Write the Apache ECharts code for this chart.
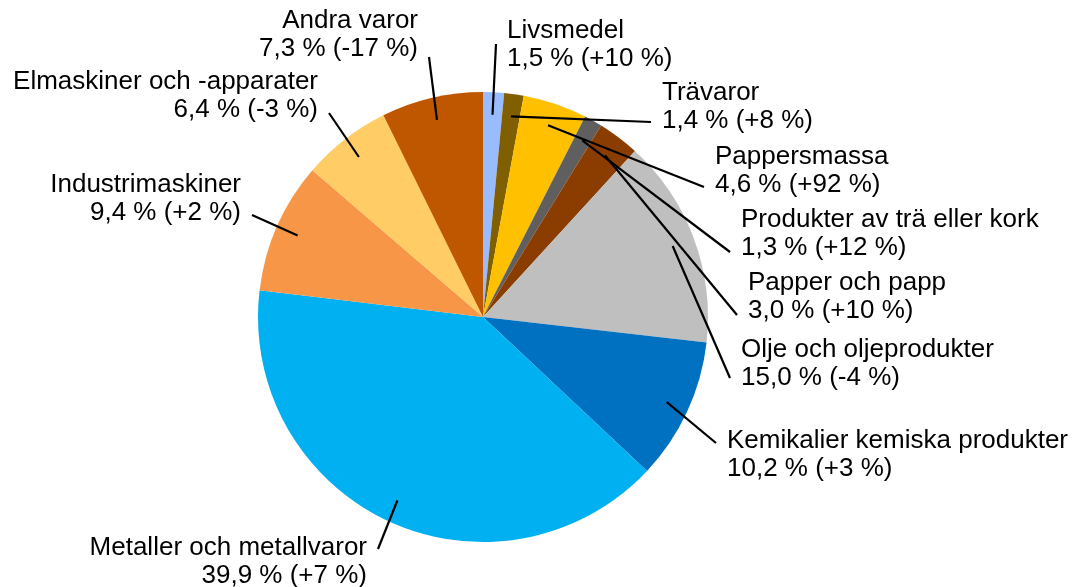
<!DOCTYPE html>
<html>
<head>
<meta charset="utf-8">
<script src="https://cdn.jsdelivr.net/npm/echarts@6/dist/echarts.min.js"></script>
<style>
  html, body { margin: 0; padding: 0; background: #ffffff; }
  #chart { width: 1076px; height: 587px; }
</style>
</head>
<body>
<div id="chart"></div>
<script>
// Varugrupper, andel i procent och förändring mot föregående år
const categories = [
  'Livsmedel',
  'Trävaror',
  'Pappersmassa',
  'Produkter av trä eller kork',
  'Papper och papp',
  'Olje och oljeprodukter',
  'Kemikalier kemiska produkter',
  'Metaller och metallvaror',
  'Industrimaskiner',
  'Elmaskiner och -apparater',
  'Andra varor'
];
const shares = [1.5, 1.4, 4.6, 1.3, 3.0, 15.0, 10.2, 39.9, 9.4, 6.4, 7.3];
const changes = ['+10', '+8', '+92', '+12', '+10', '-4', '+3', '+7', '+2', '-3', '-17'];

// Slice colours
const sliceColors = [
  '#99BBFF', '#7F5F00', '#FFC000', '#5F5F5F', '#8B3D00', '#BFBFBF',
  '#0070C0', '#00B0F0', '#F79646', '#FFCC66', '#BF5600'
];

// Pie geometry
const pieCenter = [483, 317];
const pieRadius = 225;
const leaderStartFrac = 0.9;

// Label placement: anchor x, block centre y, text alignment, leader attach offset (y)
const labelSpots = [
  [507, 45, 'left', -1],
  [662, 107, 'left', 15],
  [715, 171, 'left', 16],
  [741, 234, 'left', 18],
  [748, 297, 'left', 18],
  [741, 364, 'left', 14],
  [727, 455, 'left', -12],
  [367, 562, 'right', -13],
  [241, 199, 'right', 16],
  [318, 96, 'right', 17],
  [418, 35, 'right', 22]
];
const leaderGap = 11;

const fmt = v => v.toFixed(1).replace('.', ',');

// Mid-angle of each slice (clockwise from 12 o'clock), in radians
const total = shares.reduce((a, b) => a + b, 0);
const midAngles = [];
{
  let acc = 0;
  shares.forEach(v => {
    midAngles.push(((acc + v / 2) / total) * 2 * Math.PI);
    acc += v;
  });
}

const pieData = categories.map((name, i) => ({
  name,
  value: shares[i],
  itemStyle: { color: sliceColors[i] }
}));

const chart = echarts.init(document.getElementById('chart'), null, { renderer: 'canvas' });

const basePie = {
  type: 'pie',
  center: pieCenter,
  radius: pieRadius,
  startAngle: 90,
  clockwise: true,
  avoidLabelOverlap: false,
  silent: true,
  emphasis: { disabled: true }
};

chart.setOption({
  animation: false,
  backgroundColor: '#ffffff',
  series: [
    // Coloured slices
    Object.assign({}, basePie, {
      z: 2,
      data: pieData,
      itemStyle: { borderWidth: 0 },
      label: { show: false },
      labelLine: { show: false }
    }),
    // Labels and leader lines, drawn on top of the slices
    Object.assign({}, basePie, {
      z: 5,
      data: pieData.map(d => ({ name: d.name, value: d.value })),
      itemStyle: { color: 'rgba(0,0,0,0)', borderWidth: 0 },
      label: {
        show: true,
        position: 'outside',
        color: '#000000',
        fontFamily: '"Liberation Sans", Arial, sans-serif',
        fontSize: 26,
        lineHeight: 28,
        formatter: p => p.name + '\n' + fmt(p.value) + ' % (' + changes[p.dataIndex] + ' %)'
      },
      labelLine: {
        show: true,
        smooth: false,
        lineStyle: { color: '#000000', width: 2.2 }
      },
      labelLayout: params => {
        const i = params.dataIndex;
        const s = labelSpots[i];
        const a = midAngles[i];
        const r = pieRadius * leaderStartFrac;
        const start = [pieCenter[0] + r * Math.sin(a), pieCenter[1] - r * Math.cos(a)];
        const endX = s[2] === 'left' ? s[0] - leaderGap : s[0] + leaderGap;
        const end = [endX, s[1] + s[3]];
        return {
          x: s[0],
          y: s[1],
          align: s[2],
          verticalAlign: 'middle',
          labelLinePoints: [start, end]
        };
      }
    })
  ]
});
</script>
</body>
</html>
